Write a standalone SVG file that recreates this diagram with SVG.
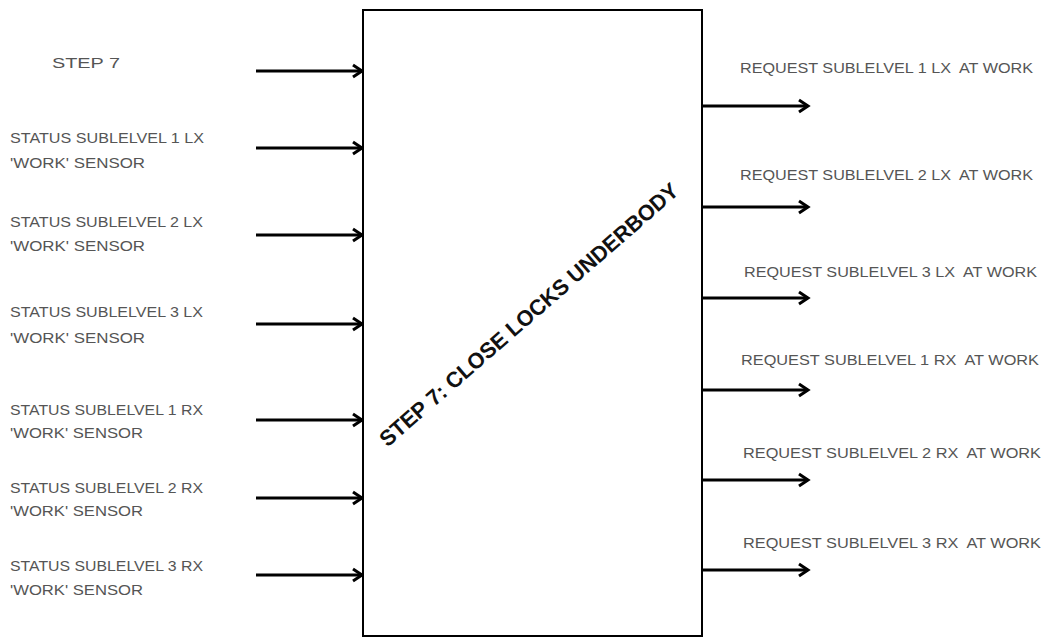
<svg xmlns="http://www.w3.org/2000/svg" width="1048" height="639" viewBox="0 0 1048 639">
<defs>
<marker id="ah" markerUnits="userSpaceOnUse" markerWidth="14" markerHeight="16" refX="11" refY="8" orient="auto">
<path d="M2,2 L11,8 L2,14" fill="none" stroke="#000" stroke-width="3"/>
</marker>
<style>
.lbl{font-family:"Liberation Sans",Arial,sans-serif;font-size:14px;fill:#555;white-space:pre}
.conn{stroke:#000;stroke-width:3;fill:none;marker-end:url(#ah)}
.box{fill:#fff;stroke:#000;stroke-width:2}
.title{font-family:"Liberation Sans",Arial,sans-serif;font-size:22px;font-weight:bold;fill:#111}
</style>
</defs>
<rect width="1048" height="639" fill="#fff"/>
<g id="connectors">
<line class="conn" x1="256" y1="71" x2="362" y2="71"/>
<line class="conn" x1="256" y1="148" x2="362" y2="148"/>
<line class="conn" x1="256" y1="235" x2="362" y2="235"/>
<line class="conn" x1="256" y1="324" x2="362" y2="324"/>
<line class="conn" x1="256" y1="420" x2="362" y2="420"/>
<line class="conn" x1="256" y1="498" x2="362" y2="498"/>
<line class="conn" x1="256" y1="575" x2="362" y2="575"/>
<line class="conn" x1="702" y1="106" x2="808" y2="106"/>
<line class="conn" x1="702" y1="207" x2="808" y2="207"/>
<line class="conn" x1="702" y1="298" x2="808" y2="298"/>
<line class="conn" x1="702" y1="390" x2="808" y2="390"/>
<line class="conn" x1="702" y1="480" x2="808" y2="480"/>
<line class="conn" x1="702" y1="570" x2="808" y2="570"/>
</g>
<g id="main-block">
<rect class="box" x="363" y="10" width="339" height="626"/>
<text class="title" transform="translate(530,316) rotate(-41)" text-anchor="middle" dominant-baseline="middle" textLength="388" lengthAdjust="spacingAndGlyphs">STEP 7: CLOSE LOCKS UNDERBODY</text>
</g>
<g id="in-step7"><text class="lbl" x="52" y="68" textLength="68" lengthAdjust="spacingAndGlyphs">STEP 7</text></g>
<g id="in-1lx"><text class="lbl" x="10" y="143" textLength="194" lengthAdjust="spacingAndGlyphs">STATUS SUBLELVEL 1 LX</text><text class="lbl" x="10" y="168" textLength="135" lengthAdjust="spacingAndGlyphs">'WORK' SENSOR</text></g>
<g id="in-2lx"><text class="lbl" x="10" y="227" textLength="193" lengthAdjust="spacingAndGlyphs">STATUS SUBLELVEL 2 LX</text><text class="lbl" x="10" y="251" textLength="135" lengthAdjust="spacingAndGlyphs">'WORK' SENSOR</text></g>
<g id="in-3lx"><text class="lbl" x="10" y="317" textLength="193" lengthAdjust="spacingAndGlyphs">STATUS SUBLELVEL 3 LX</text><text class="lbl" x="10" y="343" textLength="135" lengthAdjust="spacingAndGlyphs">'WORK' SENSOR</text></g>
<g id="in-1rx"><text class="lbl" x="10" y="415" textLength="193" lengthAdjust="spacingAndGlyphs">STATUS SUBLELVEL 1 RX</text><text class="lbl" x="10" y="438" textLength="133" lengthAdjust="spacingAndGlyphs">'WORK' SENSOR</text></g>
<g id="in-2rx"><text class="lbl" x="10" y="493" textLength="193" lengthAdjust="spacingAndGlyphs">STATUS SUBLELVEL 2 RX</text><text class="lbl" x="10" y="516" textLength="133" lengthAdjust="spacingAndGlyphs">'WORK' SENSOR</text></g>
<g id="in-3rx"><text class="lbl" x="10" y="571" textLength="193" lengthAdjust="spacingAndGlyphs">STATUS SUBLELVEL 3 RX</text><text class="lbl" x="10" y="595" textLength="133" lengthAdjust="spacingAndGlyphs">'WORK' SENSOR</text></g>
<g id="out-1lx"><text class="lbl" x="740" y="73" textLength="293" lengthAdjust="spacingAndGlyphs">REQUEST SUBLELVEL 1 LX  AT WORK</text></g>
<g id="out-2lx"><text class="lbl" x="740" y="180" textLength="293" lengthAdjust="spacingAndGlyphs">REQUEST SUBLELVEL 2 LX  AT WORK</text></g>
<g id="out-3lx"><text class="lbl" x="744" y="277" textLength="293" lengthAdjust="spacingAndGlyphs">REQUEST SUBLELVEL 3 LX  AT WORK</text></g>
<g id="out-1rx"><text class="lbl" x="741" y="365" textLength="298" lengthAdjust="spacingAndGlyphs">REQUEST SUBLELVEL 1 RX  AT WORK</text></g>
<g id="out-2rx"><text class="lbl" x="743" y="458" textLength="298" lengthAdjust="spacingAndGlyphs">REQUEST SUBLELVEL 2 RX  AT WORK</text></g>
<g id="out-3rx"><text class="lbl" x="743" y="548" textLength="298" lengthAdjust="spacingAndGlyphs">REQUEST SUBLELVEL 3 RX  AT WORK</text></g>
</svg>
